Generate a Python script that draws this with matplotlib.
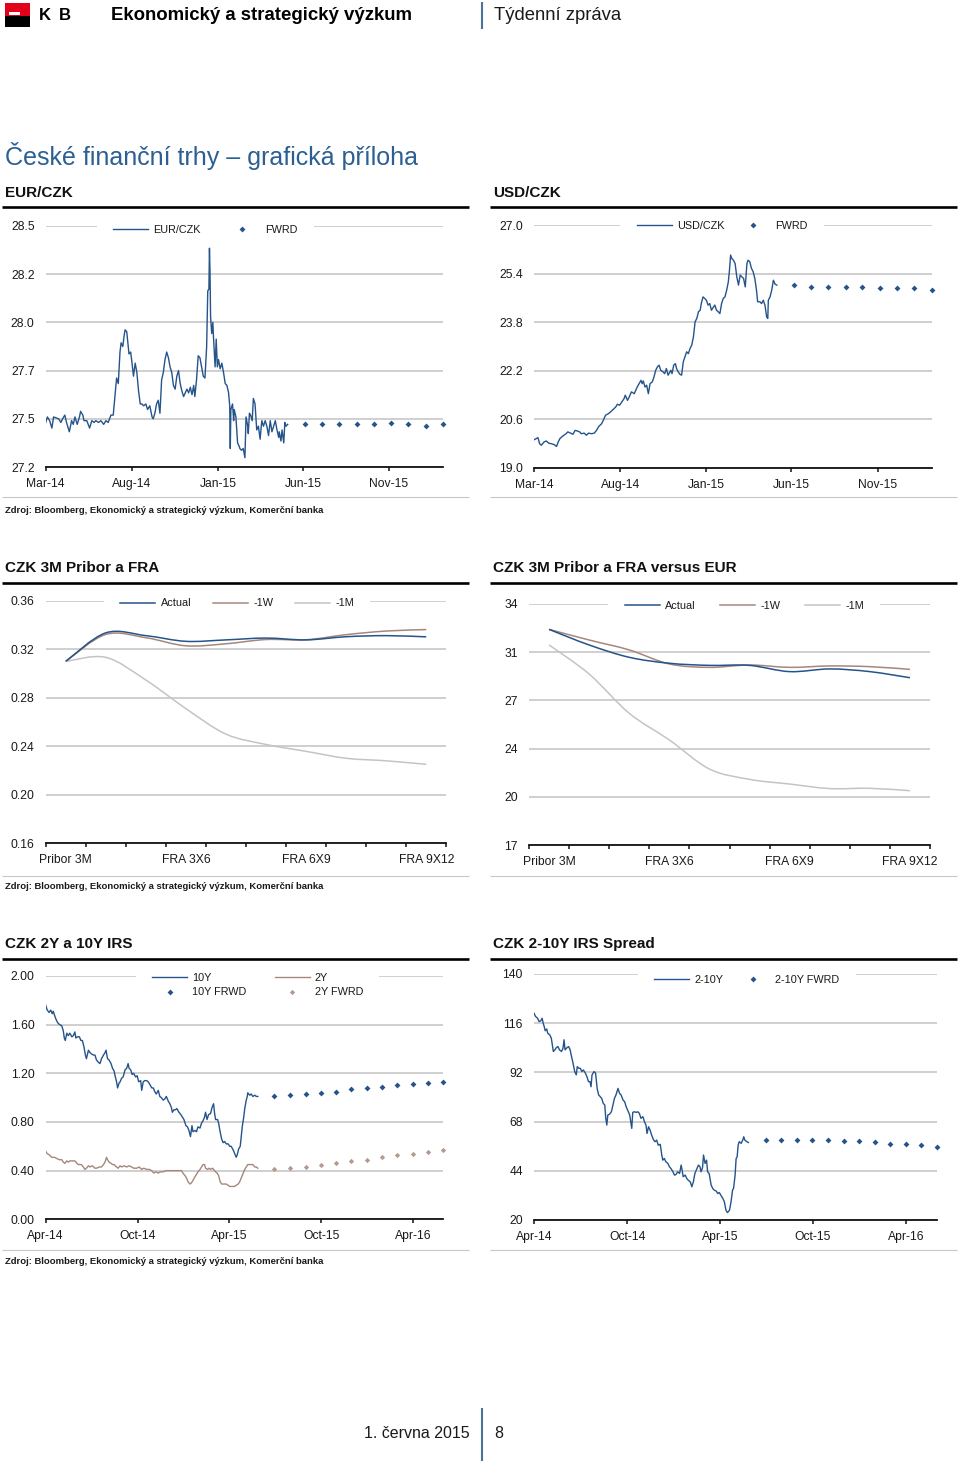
import matplotlib
matplotlib.use('Agg')
import matplotlib.pyplot as plt
import matplotlib.dates as mdates
from matplotlib.path import Path
from matplotlib.patches import PathPatch, Rectangle
from matplotlib.lines import Line2D
import pandas as pd
import numpy as np

plt.rcParams['font.family'] = ['Liberation Sans', 'DejaVu Sans']

# ---------------- DATA ----------------
# Panel 1: EUR/CZK (days since 2014-03-01)
eur_start = '2014-03-01'
eur_days = [0,3,7,11,14,23,27,30,34,37,42,46,49,52,56,60,62,66,68,73,78,82,86,89,94,98,103,107,111,116,120,
            123,126,129,132,134,137,139,141,144,146,148,151,153,156,159,162,165,168,171,174,178,181,185,189,191,194,197,200,203,
            206,209,212,215,218,221,224,227,230,233,236,239,242,245,251,254,257,260,263,265,268,271,274,277,280,283,286,
            288,290,291,292,293,295,297,298,301,303,305,307,310,313,316,319,322,325,327,328,329,332,334,335,338,340,341,344,345,348,351,354,
            356,359,360,362,364,367,369,372,375,378,381,384,387,390,393,396,399,402,405,408,411,414,415,418,420,423,425,427,430]
eur_vals = [27.44,27.47,27.45,27.41,27.47,27.46,27.44,27.46,27.48,27.44,27.39,27.45,27.43,27.47,27.43,27.47,27.50,27.48,27.45,27.45,
            27.41,27.45,27.44,27.45,27.44,27.45,27.43,27.45,27.44,27.48,27.48,
            27.58,27.68,27.65,27.82,27.87,27.85,27.90,27.94,27.93,27.87,27.81,27.82,27.77,27.69,27.76,27.71,27.61,27.54,27.54,27.53,
            27.54,27.51,27.53,27.47,27.46,27.49,27.54,27.56,27.49,
            27.67,27.71,27.78,27.82,27.79,27.74,27.71,27.64,27.62,27.69,27.72,27.65,27.61,27.58,27.62,27.60,27.63,27.59,27.64,27.58,
            27.67,27.80,27.79,27.74,27.69,27.68,27.85,
            28.15,28.16,28.38,28.25,28.01,27.92,27.98,27.91,27.74,27.89,27.74,27.78,27.73,27.76,27.71,27.65,27.64,27.60,27.53,27.30,
            27.51,27.54,27.45,27.51,27.47,27.38,27.33,27.31,27.30,27.29,27.30,27.25,
            27.47,27.42,27.38,27.49,27.48,27.45,27.57,27.54,27.40,27.42,27.35,27.45,27.42,27.45,27.42,27.37,27.45,27.39,27.42,27.45,
            27.40,27.36,27.39,27.34,27.40,27.33,27.44,27.42,27.43]
fx_fwd_dates = ['2015-06-05','2015-07-05','2015-08-05','2015-09-05','2015-10-05',
                '2015-11-05','2015-12-05','2016-01-05','2016-02-05']
eur_fwd = [27.43,27.43,27.43,27.43,27.43,27.44,27.43,27.42,27.43]
eur_yticks = [27.2,27.46,27.72,27.98,28.24,28.5]
eur_ylabels = ['27.2','27.5','27.7','28.0','28.2','28.5']

# Panel 2: USD/CZK
usd_days = [0,4,7,10,13,18,22,26,31,36,40,43,46,49,53,57,60,65,69,73,77,81,84,89,93,97,102,107,111,115,
            120,123,127,132,136,140,145,148,152,156,160,162,166,169,173,178,182,185,190,192,194,197,200,203,206,210,213,216,219,222,
            225,229,232,235,238,243,245,248,251,253,256,259,262,265,268,271,274,277,280,283,286,289,292,295,297,300,303,306,309,312,
            315,318,321,324,327,330,333,336,339,342,345,347,349,351,354,357,360,363,366,369,372,375,378,380,383,386,389,392,395,397,
            401,404,407,410,413,415,416,419,422,425,428,431]
usd_vals = [19.92,19.96,19.99,19.79,19.74,19.85,19.88,19.81,19.79,19.76,19.70,19.85,19.96,20.01,20.07,20.12,20.18,20.14,20.10,20.23,
            20.21,20.18,20.12,20.14,20.07,20.14,20.12,20.14,20.23,20.36,
            20.45,20.56,20.73,20.78,20.84,20.91,21.00,21.09,21.06,21.17,21.28,21.39,21.22,21.33,21.50,21.44,21.61,21.72,21.88,21.77,
            21.86,21.66,21.72,21.44,21.77,21.83,21.99,22.21,22.32,22.38,
            22.21,22.16,22.10,22.27,22.05,22.21,22.10,22.38,22.43,22.27,22.16,22.08,22.05,22.49,22.65,22.82,22.76,22.93,23.04,23.31,
            23.81,23.92,24.14,24.19,24.41,24.63,24.58,24.52,24.36,24.41,
            24.19,24.28,24.36,24.19,24.14,24.08,24.41,24.58,24.63,24.85,25.13,25.51,26.01,25.90,25.84,25.73,25.29,25.02,25.35,25.29,
            25.24,24.96,25.73,25.84,25.79,25.57,25.46,25.24,24.85,24.47,
            24.47,24.41,24.52,24.36,23.97,23.92,24.52,24.63,24.85,25.18,25.05,25.02]
usd_fwd = [25.01,24.96,24.96,24.96,24.96,24.91,24.91,24.91,24.87]
usd_yticks = [19.0,20.6,22.2,23.8,25.4,27.0]
usd_ylabels = ['19.0','20.6','22.2','23.8','25.4','27.0']
fx_xticks = ['2014-03-01','2014-08-01','2015-01-01','2015-06-01','2015-11-01']
fx_xlim = ['2014-03-01','2016-02-05']

# Panel 3 & 4: curves
fra_categories = ['Pribor 3M','FRA 1X4','FRA 2X5','FRA 3X6','FRA 4X7','FRA 5X8','FRA 6X9','FRA 7X10','FRA 8X11','FRA 9X12']
czk_actual = [0.310,0.3335,0.3312,0.3265,0.3277,0.3292,0.3277,0.3303,0.3312,0.3302]
czk_1w = [0.310,0.3322,0.3295,0.3228,0.3245,0.3280,0.3278,0.3320,0.3350,0.3362]
czk_1m = [0.310,0.3133,0.2946,0.2710,0.2500,0.2415,0.2358,0.2301,0.2280,0.2251]
czk_yticks = [0.16,0.20,0.24,0.28,0.32,0.36]
czk_ylabels = ['0.16','0.20','0.24','0.28','0.32','0.36']

spr_actual = [32.21,31.11,30.24,29.82,29.67,29.67,29.23,29.42,29.23,28.80]
spr_1w = [32.21,31.46,30.76,29.77,29.53,29.70,29.53,29.63,29.58,29.39]
spr_1m = [31.11,29.06,26.29,24.41,22.36,21.63,21.30,20.98,21.00,20.83]
spr_yticks = [17,20.4,23.8,27.2,30.6,34]
spr_ylabels = ['17','20','24','27','31','34']

# Panel 5: IRS (days since 2014-04-01)
irs_start = '2014-04-01'
irs10_days = [0,3,7,10,13,15,19,22,25,28,32,35,37,39,42,45,48,52,55,58,60,63,67,70,73,76,79,81,85,88,
              91,95,98,101,105,108,111,115,118,120,123,126,130,133,136,138,141,143,146,148,151,154,158,161,164,166,169,172,175,179,
              182,185,189,191,194,197,201,204,207,211,214,217,220,224,227,230,234,237,240,244,247,250,252,255,258,261,265,269,272,275,
              279,282,285,288,291,293,297,300,303,307,310,313,316,318,321,324,328,331,334,336,338,342,344,347,350,353,356,359,363,366,
              369,373,376,379,381,384,387,389,391,394,396,399,401,402,406,409,412,416,419,422]
irs10_vals = [1.76,1.72,1.70,1.72,1.69,1.71,1.66,1.63,1.61,1.60,1.59,1.55,1.49,1.47,1.53,1.51,1.53,1.50,1.51,1.54,
              1.49,1.50,1.50,1.47,1.47,1.42,1.35,1.32,1.39,1.37,
              1.36,1.35,1.35,1.31,1.29,1.28,1.32,1.35,1.37,1.39,1.32,1.31,1.28,1.24,1.22,1.18,1.13,1.08,1.12,1.13,
              1.16,1.17,1.23,1.24,1.28,1.24,1.23,1.19,1.20,1.17,
              1.18,1.13,1.14,1.06,1.13,1.14,1.14,1.13,1.11,1.08,1.08,1.05,1.03,1.06,1.01,1.00,0.98,0.99,1.01,0.97,
              0.95,0.92,0.88,0.90,0.90,0.91,0.88,0.86,0.84,0.82,
              0.77,0.76,0.73,0.68,0.77,0.72,0.73,0.72,0.76,0.75,0.79,0.81,0.84,0.88,0.82,0.86,0.87,0.92,0.95,0.87,
              0.82,0.82,0.79,0.72,0.66,0.63,0.64,0.62,0.62,0.60,
              0.60,0.57,0.54,0.51,0.53,0.58,0.60,0.68,0.76,0.84,0.91,0.98,1.01,1.04,1.02,1.03,1.01,1.02,1.01,1.01]
irs2_days = [0,3,7,12,17,22,27,32,35,38,42,45,48,54,58,62,65,68,71,75,78,81,85,88,93,98,101,107,111,115,
             118,121,123,126,130,133,136,141,144,148,151,156,161,166,171,175,181,186,191,195,201,206,211,215,219,224,228,234,239,244,
             250,257,263,270,273,277,280,283,287,290,293,297,300,303,307,310,313,316,318,322,325,328,332,334,338,341,344,347,350,353,
             356,359,363,366,369,373,376,379,383,386,389,393,396,399,402,406,409,412,416,419,422]
irs2_vals = [0.56,0.54,0.53,0.51,0.51,0.50,0.49,0.49,0.47,0.46,0.48,0.47,0.48,0.48,0.48,0.46,0.45,0.45,0.45,0.43,
             0.41,0.42,0.44,0.43,0.44,0.42,0.42,0.43,0.43,0.45,
             0.47,0.51,0.49,0.47,0.46,0.45,0.45,0.43,0.42,0.44,0.43,0.44,0.43,0.44,0.43,0.42,0.42,0.43,0.41,0.42,
             0.41,0.41,0.40,0.38,0.39,0.38,0.39,0.39,0.40,0.40,
             0.40,0.40,0.40,0.40,0.38,0.36,0.34,0.31,0.29,0.30,0.32,0.35,0.37,0.39,0.41,0.43,0.45,0.45,0.42,0.41,
             0.42,0.41,0.42,0.41,0.39,0.38,0.36,0.31,0.29,0.29,
             0.29,0.29,0.28,0.27,0.27,0.27,0.27,0.28,0.29,0.31,0.34,0.38,0.41,0.43,0.45,0.45,0.45,0.45,0.43,0.43,0.42]
irs_fwd_dates = ['2015-06-30','2015-07-31','2015-08-31','2015-09-30','2015-10-31','2015-11-30',
                 '2015-12-31','2016-01-31','2016-02-29','2016-03-31','2016-04-30','2016-05-31']
irs10_fwd = [1.01,1.02,1.03,1.04,1.05,1.07,1.08,1.09,1.10,1.11,1.12,1.13]
irs2_fwd = [0.41,0.42,0.43,0.45,0.46,0.48,0.49,0.51,0.53,0.54,0.55,0.57]
irs_yticks = [0.0,0.4,0.8,1.2,1.6,2.0]
irs_ylabels = ['0.00','0.40','0.80','1.20','1.60','2.00']
irs_xticks = ['2014-04-01','2014-10-01','2015-04-01','2015-10-01','2016-04-01']
irs_xlim = ['2014-04-01','2016-05-31']

# Panel 6: 2-10Y spread
sp_days = [0,3,7,10,13,16,18,20,22,25,27,31,34,36,38,41,44,47,50,54,57,59,61,65,68,71,73,76,80,83,
           85,88,91,94,97,101,104,107,110,112,114,118,121,124,127,130,133,136,139,141,143,145,148,152,155,158,161,163,165,168,
           171,175,178,181,184,188,190,192,194,197,201,204,207,210,214,217,220,222,225,228,231,235,238,241,244,248,251,253,256,259,
           263,266,269,273,276,279,282,286,289,291,293,297,300,303,307,310,313,316,320,323,326,328,331,333,336,339,341,344,348,351,
           354,358,361,364,367,371,374,377,380,384,387,390,392,395,397,399,401,403,407,410,412,414,418,421]
sp_vals = [120.9,119.3,118.4,116.8,117.1,118.4,116.0,114.4,112.3,113.2,111.1,110.3,108.7,105.4,102.2,103.0,104.1,104.6,103.0,102.2,
           103.8,107.9,103.0,104.1,104.6,103.0,100.5,97.3,92.4,90.8,
           94.8,94.0,94.0,92.4,93.2,91.6,89.9,87.5,87.5,85.0,90.8,92.4,91.6,84.2,81.0,80.2,79.3,76.9,76.1,69.6,
           66.3,71.2,71.5,72.8,76.1,79.3,81.0,82.6,84.2,81.8,
           81.0,78.5,77.7,75.3,73.6,71.2,67.9,64.7,72.5,72.8,72.5,72.8,72.0,69.6,70.4,67.9,66.3,62.2,65.5,63.9,
           61.4,59.0,58.2,59.0,56.5,56.9,51.7,49.2,50.0,48.4,
           47.6,46.0,45.1,43.5,41.9,42.2,43.5,42.7,46.8,44.3,41.1,41.9,40.3,39.4,38.6,36.2,38.6,42.7,45.1,46.8,
           46.0,43.5,45.5,51.7,47.6,49.2,43.5,42.7,37.0,35.4,
           34.6,34.1,32.9,33.4,32.1,30.5,28.8,24.8,23.6,24.8,28.8,34.6,35.4,41.9,50.0,50.8,56.5,58.2,57.4,59.0,
           60.6,59.0,58.2,57.8]
sp_fwd = [59.2,59.2,59.2,59.2,59.2,58.5,58.5,57.9,57.2,57.2,56.6,55.8]
sp_yticks = [20,44,68,92,116,140]
sp_ylabels = ['20','44','68','92','116','140']

# ---------------- STYLE ----------------
BLUE = '#25548a'
BROWN = '#a5877c'
BROWN_FWD = '#b39a90'
GRAY = '#c4c4c4'
GRID = '#c2c2c2'
TXT = '#1a1a1a'

W, H = 960, 1467
fig = plt.figure(figsize=(W / 100, H / 100), dpi=100)
fig.patch.set_facecolor('white')


def fx(x):
    return x / W


def fy(y):
    return 1 - y / H


def add_axes_px(l, t, r, b):
    return fig.add_axes([l / W, 1 - b / H, (r - l) / W, (b - t) / H])


def hline(x0, x1, y, color, lw):
    fig.add_artist(Line2D([fx(x0), fx(x1)], [fy(y), fy(y)], color=color, lw=lw,
                          transform=fig.transFigure, solid_capstyle='butt'))


def vline(x, y0, y1, color, lw):
    fig.add_artist(Line2D([fx(x), fx(x)], [fy(y0), fy(y1)], color=color, lw=lw,
                          transform=fig.transFigure, solid_capstyle='butt'))


def ftext(x, y, s, **kw):
    fig.text(fx(x), fy(y), s, **kw)


def style_axes(ax, yticks, ylabels):
    ax.set_ylim(yticks[0], yticks[-1])
    ax.set_yticks(yticks)
    ax.set_yticklabels(ylabels)
    for s in ['left', 'right', 'top']:
        ax.spines[s].set_visible(False)
    ax.spines['bottom'].set_color('#111111')
    ax.spines['bottom'].set_linewidth(1.3)
    ax.tick_params(axis='y', length=0, pad=8, labelsize=8.7, labelcolor=TXT)
    ax.tick_params(axis='x', which='major', length=3, width=1.1, direction='out', pad=5,
                   labelsize=8.7, labelcolor=TXT, color='#111111')
    ax.grid(axis='y', color=GRID, lw=1.1)
    ax.grid(axis='x', visible=False)
    ax.set_axisbelow(True)


FS_LEG = 7.8
FPX = FS_LEG * 100 / 72


def add_legend(ax, handles, labels, cx, cy, colsp_px, ncol):
    leg = ax.legend(handles, labels, loc='center', bbox_to_anchor=(cx, cy), ncol=ncol,
                    fontsize=FS_LEG, frameon=True, fancybox=False, framealpha=1,
                    facecolor='white', edgecolor='none', borderpad=1.5,
                    handlelength=35 / FPX, handletextpad=5 / FPX,
                    columnspacing=colsp_px / FPX, labelspacing=0.45, borderaxespad=0)
    leg.set_zorder(1)
    for t in leg.get_texts():
        t.set_color(TXT)
    return leg


def smooth_path(xs, ys):
    verts = [(xs[0], ys[0])]
    codes = [Path.MOVETO]
    n = len(xs)
    for i in range(n - 1):
        p0 = (xs[i - 1], ys[i - 1]) if i > 0 else (xs[i], ys[i])
        p1 = (xs[i], ys[i])
        p2 = (xs[i + 1], ys[i + 1])
        p3 = (xs[i + 2], ys[i + 2]) if i + 2 < n else p2
        c1 = (p1[0] + (p2[0] - p0[0]) / 6, p1[1] + (p2[1] - p0[1]) / 6)
        c2 = (p2[0] - (p3[0] - p1[0]) / 6, p2[1] - (p3[1] - p1[1]) / 6)
        verts += [c1, c2, p2]
        codes += [Path.CURVE4] * 3
    return Path(verts, codes)


def date_axis(ax, xlim, xticks):
    ax.set_xlim(np.datetime64(xlim[0]), np.datetime64(xlim[1]))
    ax.set_xticks(pd.to_datetime(xticks))
    ax.xaxis.set_major_formatter(mdates.DateFormatter('%b-%y'))


def curve_axis(ax, cats):
    n = len(cats)
    ax.set_xlim(-0.5, n - 0.5)
    ax.set_xticks(np.arange(n + 1) - 0.5)
    ax.set_xticklabels([''] * (n + 1))
    idx = list(range(0, n, 3))
    ax.set_xticks(idx, minor=True)
    ax.set_xticklabels([cats[i] for i in idx], minor=True)
    ax.tick_params(axis='x', which='minor', length=0, pad=8, labelsize=8.7, labelcolor=TXT)


# ---------------- HEADER ----------------
fig.add_artist(Rectangle((fx(5), fy(16)), 24.5 / W, 13 / H, transform=fig.transFigure,
                         facecolor='#e2001a', edgecolor='none'))
fig.add_artist(Rectangle((fx(5), fy(27)), 24.5 / W, 11 / H, transform=fig.transFigure,
                         facecolor='#000000', edgecolor='none'))
fig.add_artist(Rectangle((fx(9), fy(15)), 11 / W, 2.5 / H, transform=fig.transFigure,
                         facecolor='white', edgecolor='none'))
ftext(39, 20, 'K', fontsize=12, fontweight='bold', color='#000000', va='baseline')
ftext(59, 20, 'B', fontsize=12, fontweight='bold', color='#000000', va='baseline')
ftext(111, 19.5, 'Ekonomický a strategický výzkum', fontsize=13.4, fontweight='bold', color='#000000',
      va='baseline')
vline(482, 2, 29, '#4b7299', 1.5)
ftext(494, 19.5, 'Týdenní zpráva', fontsize=13.3, color='#1a1a1a', va='baseline')

ftext(5, 165, 'České finanční trhy – grafická příloha', fontsize=18.0, color='#2c5f93', va='baseline')

# Panel titles and rules
rows = [(193, 207, 497, 511), (568, 583, 876, 886), (944, 959, 1250, 1262)]
titles = [('EUR/CZK', 'USD/CZK'), ('CZK 3M Pribor a FRA', 'CZK 3M Pribor a FRA versus EUR'),
          ('CZK 2Y a 10Y IRS', 'CZK 2-10Y IRS Spread')]
for (ty, thick, thin, zy), (tl, tr) in zip(rows, titles):
    ftext(5, ty, tl, fontsize=11, fontweight='bold', color='#111111', va='center')
    ftext(493, ty, tr, fontsize=11, fontweight='bold', color='#111111', va='center')
    hline(2, 469, thick, '#000000', 1.9)
    hline(490, 957, thick, '#000000', 1.9)
    hline(2, 469, thin, '#c8c8c8', 0.8)
    hline(490, 957, thin, '#c8c8c8', 0.8)
    ftext(5, zy, 'Zdroj: Bloomberg, Ekonomický a strategický výzkum, Komerční banka',
          fontsize=6.8, fontweight='bold', color='#1a1a1a', va='center')

# ---------------- PANEL 1 ----------------
ax1 = add_axes_px(45.7, 226, 443, 467)
style_axes(ax1, eur_yticks, eur_ylabels)
date_axis(ax1, fx_xlim, fx_xticks)
eur_dates = pd.Timestamp(eur_start) + pd.to_timedelta(eur_days, unit='D')
l1, = ax1.plot(eur_dates, eur_vals, color=BLUE, lw=1.0, zorder=3)
m1, = ax1.plot(pd.to_datetime(fx_fwd_dates), eur_fwd, ls='none', marker='D', ms=3.0, mew=0,
               color=BLUE, zorder=3, clip_on=False)
add_legend(ax1, [l1, m1], ['EUR/CZK', 'FWRD'], 0.402, 0.983, 24, 2)

# ---------------- PANEL 2 ----------------
ax2 = add_axes_px(534, 225, 931.7, 467.7)
style_axes(ax2, usd_yticks, usd_ylabels)
date_axis(ax2, fx_xlim, fx_xticks)
usd_dates = pd.Timestamp(eur_start) + pd.to_timedelta(usd_days, unit='D')
l2, = ax2.plot(usd_dates, usd_vals, color=BLUE, lw=1.0, zorder=3)
m2, = ax2.plot(pd.to_datetime(fx_fwd_dates), usd_fwd, ls='none', marker='D', ms=3.0, mew=0,
               color=BLUE, zorder=3, clip_on=False)
add_legend(ax2, [l2, m2], ['USD/CZK', 'FWRD'], 0.473, 0.997, 11, 2)

# ---------------- PANEL 3 ----------------
ax3 = add_axes_px(45.7, 600.7, 446.3, 843.3)
style_axes(ax3, czk_yticks, czk_ylabels)
curve_axis(ax3, fra_categories)
xs = list(range(len(fra_categories)))
for vals, col in [(czk_1m, GRAY), (czk_1w, BROWN), (czk_actual, BLUE)]:
    ax3.add_patch(PathPatch(smooth_path(xs, vals), fill=False, edgecolor=col, lw=1.1, zorder=3))
h3 = [Line2D([], [], color=BLUE, lw=1.1), Line2D([], [], color=BROWN, lw=1.1), Line2D([], [], color=GRAY, lw=1.1)]
add_legend(ax3, h3, ['Actual', '-1W', '-1M'], 0.478, 0.989, 22, 3)

# ---------------- PANEL 4 ----------------
ax4 = add_axes_px(529, 604, 930, 845)
style_axes(ax4, spr_yticks, spr_ylabels)
curve_axis(ax4, fra_categories)
for vals, col in [(spr_1m, GRAY), (spr_1w, BROWN), (spr_actual, BLUE)]:
    ax4.add_patch(PathPatch(smooth_path(xs, vals), fill=False, edgecolor=col, lw=1.1, zorder=3))
h4 = [Line2D([], [], color=BLUE, lw=1.1), Line2D([], [], color=BROWN, lw=1.1), Line2D([], [], color=GRAY, lw=1.1)]
add_legend(ax4, h4, ['Actual', '-1W', '-1M'], 0.537, 0.992, 25, 3)

# ---------------- PANEL 5 ----------------
ax5 = add_axes_px(45.7, 976, 443.3, 1219.3)
style_axes(ax5, irs_yticks, irs_ylabels)
date_axis(ax5, irs_xlim, irs_xticks)
d10 = pd.Timestamp(irs_start) + pd.to_timedelta(irs10_days, unit='D')
d2 = pd.Timestamp(irs_start) + pd.to_timedelta(irs2_days, unit='D')
fwd5 = pd.to_datetime(irs_fwd_dates)
l5a, = ax5.plot(d10, irs10_vals, color=BLUE, lw=1.0, zorder=3)
l5b, = ax5.plot(d2, irs2_vals, color=BROWN, lw=1.0, zorder=3)
m5a, = ax5.plot(fwd5, irs10_fwd, ls='none', marker='D', ms=3.0, mew=0, color=BLUE, zorder=3, clip_on=False)
m5b, = ax5.plot(fwd5, irs2_fwd, ls='none', marker='D', ms=2.7, mew=0, color=BROWN_FWD, zorder=3, clip_on=False)
add_legend(ax5, [l5a, m5a, l5b, m5b], ['10Y', '10Y FRWD', '2Y', '2Y FWRD'], 0.533, 0.963, 28, 2)

# ---------------- PANEL 6 ----------------
ax6 = add_axes_px(534, 974, 936.7, 1220)
style_axes(ax6, sp_yticks, sp_ylabels)
date_axis(ax6, irs_xlim, irs_xticks)
dsp = pd.Timestamp(irs_start) + pd.to_timedelta(sp_days, unit='D')
l6, = ax6.plot(dsp, sp_vals, color=BLUE, lw=1.0, zorder=3)
m6, = ax6.plot(fwd5, sp_fwd, ls='none', marker='D', ms=3.0, mew=0, color=BLUE, zorder=3, clip_on=False)
add_legend(ax6, [l6, m6], ['2-10Y', '2-10Y FWRD'], 0.529, 0.976, 12, 2)

# ---------------- FOOTER ----------------
ftext(470, 1433, '1. června 2015', fontsize=11.5, color='#1a1a1a', va='center', ha='right')
vline(482, 1408, 1461, '#4b7299', 1.5)
ftext(494, 1433, '8', fontsize=11.5, color='#1a1a1a', va='center', ha='left')

fig.savefig('out.png', dpi=100, facecolor='white')
